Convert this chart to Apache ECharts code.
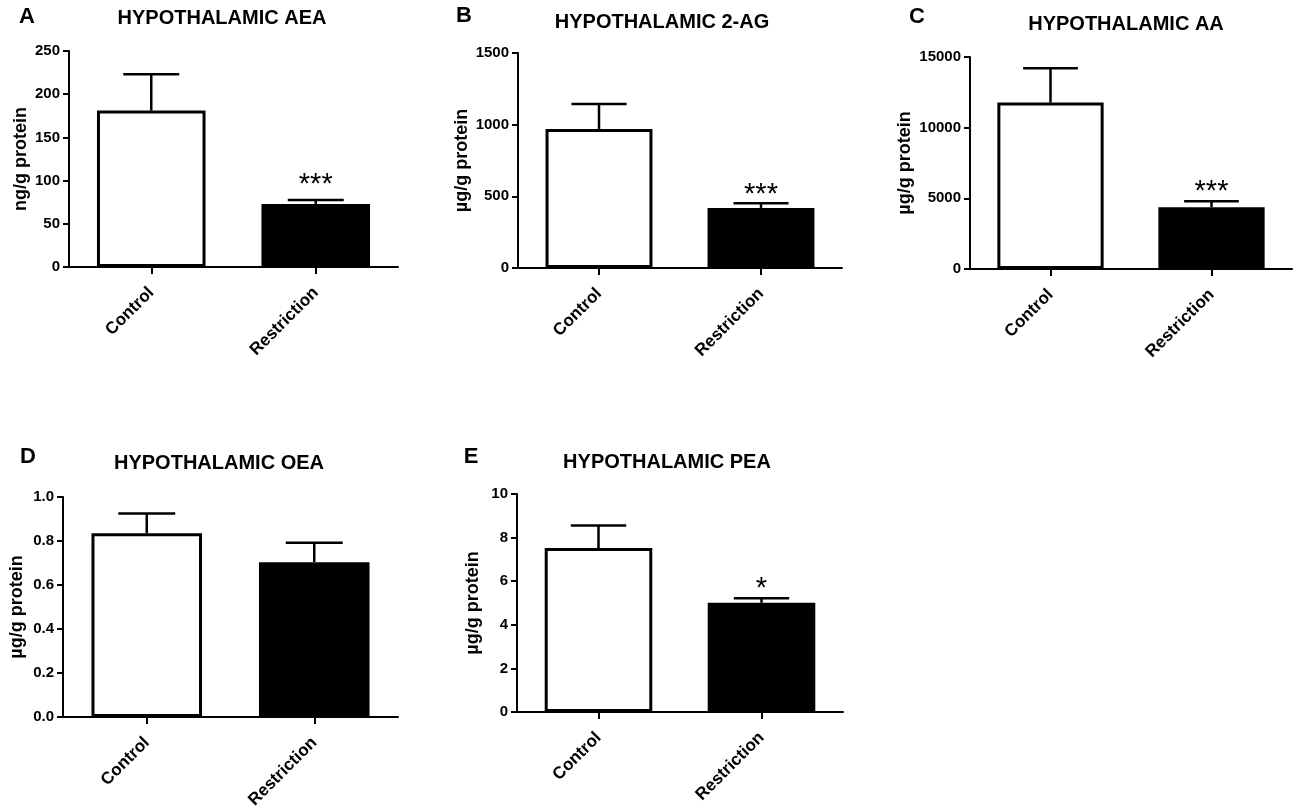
<!DOCTYPE html>
<html>
<head>
<meta charset="utf-8">
<title>Hypothalamic endocannabinoids</title>
<script src="https://cdn.jsdelivr.net/npm/echarts@6/dist/echarts.min.js"></script>
<style>
  html, body { margin: 0; padding: 0; background: #fff; }
  #chart { width: 1300px; height: 811px; }
</style>
</head>
<body>
<div id="chart"></div>
<script>
// groups on the x axis
var categories = ['Control', 'Restriction'];

// panel captions
var letters = ['A', 'B', 'C', 'D', 'E'];
var titles = ['HYPOTHALAMIC AEA', 'HYPOTHALAMIC 2-AG', 'HYPOTHALAMIC AA', 'HYPOTHALAMIC OEA', 'HYPOTHALAMIC PEA'];
var yNames = ['ng/g protein', 'µg/g protein', 'µg/g protein', 'µg/g protein', 'µg/g protein'];

// means and SEM per panel (Control, Restriction)
var aeaMean = [181, 73];
var aeaSem = [42, 4.5];
var agMean = [970, 419];
var agSem = [175, 33];
var aaMean = [11780, 4370];
var aaSem = [2420, 430];
var oeaMean = [0.835, 0.704];
var oeaSem = [0.09, 0.088];
var peaMean = [7.52, 5.01];
var peaSem = [1.03, 0.21];

// significance marks
var aeaStars = ['', '***'];
var agStars = ['', '***'];
var aaStars = ['', '***'];
var oeaStars = ['', ''];
var peaStars = ['', '*'];

// y axis ranges
var yMax = [250, 1500, 15000, 1.0, 10];
var yStep = [50, 500, 5000, 0.2, 2];

var means = [aeaMean, agMean, aaMean, oeaMean, peaMean];
var sems = [aeaSem, agSem, aaSem, oeaSem, peaSem];
var stars = [aeaStars, agStars, aaStars, oeaStars, peaStars];

// layout of each panel
var grids = [
  { left: 69, top: 51, width: 329, height: 216 },
  { left: 518, top: 53, width: 324, height: 215 },
  { left: 970, top: 57, width: 322, height: 212 },
  { left: 63, top: 497, width: 335, height: 221 },
  { left: 517, top: 494, width: 326, height: 218 }
];
var nameGaps = [39, 47, 56, 37, 35];
var starLift = [15, 8, 9, 8, 9];
var titlePos = [[222, 18], [662, 22], [1126, 24], [219, 463], [667, 462]];
var letterPos = [[27, 17], [464, 16], [917, 17], [28, 457], [471, 457]];
var fills = ['#ffffff', '#000000'];
var FONT = "'Liberation Sans', Arial, Helvetica, sans-serif";

var myChart = echarts.init(document.getElementById('chart'));

var xAxes = [], yAxes = [], series = [], graphics = [];

for (var i = 0; i < 5; i++) {
  xAxes.push({
    type: 'category',
    gridIndex: i,
    data: categories,
    axisLine: { show: true, lineStyle: { color: '#000', width: 2 } },
    axisTick: { show: true, alignWithLabel: true, length: 7, lineStyle: { color: '#000', width: 2 } },
    axisLabel: {
      interval: 0, rotate: 45, margin: 23,
      color: '#000', fontSize: 17, fontWeight: 'bold', fontFamily: FONT
    },
    splitLine: { show: false }
  });
  yAxes.push({
    type: 'value',
    gridIndex: i,
    min: 0,
    max: yMax[i],
    interval: yStep[i],
    name: yNames[i],
    nameLocation: 'middle',
    nameRotate: 90,
    nameGap: nameGaps[i],
    nameTextStyle: { color: '#000', fontSize: 18, fontWeight: 'bold', fontFamily: FONT },
    axisLine: { show: true, lineStyle: { color: '#000', width: 2 } },
    axisTick: { show: true, length: 6, lineStyle: { color: '#000', width: 2 } },
    axisLabel: {
      margin: 9, color: '#000', fontSize: 15, fontWeight: 'bold', fontFamily: FONT,
      formatter: (function (step) {
        return function (v) { return step < 1 ? v.toFixed(1) : String(v); };
      })(yStep[i])
    },
    splitLine: { show: false }
  });

  series.push({
    type: 'bar',
    xAxisIndex: i,
    yAxisIndex: i,
    barWidth: '66%',
    silent: true,
    itemStyle: { borderColor: '#000', borderWidth: 3 },
    data: means[i].map(function (v, j) {
      return { value: v, itemStyle: { color: fills[j] } };
    }),
    z: 2
  });

  // error bar (upper half only) plus significance mark
  series.push({
    type: 'custom',
    xAxisIndex: i,
    yAxisIndex: i,
    silent: true,
    z: 3,
    data: means[i].map(function (m, j) { return [j, m, m + sems[i][j]]; }),
    encode: { x: 0, y: [1, 2] },
    renderItem: (function (marks, lift) {
      return function (params, api) {
        var x = api.value(0);
        var base = api.coord([x, api.value(1)]);
        var top = api.coord([x, api.value(2)]);
        var half = api.size([1, 0])[0] * 0.17;
        var st = { stroke: '#000', lineWidth: 2.5 };
        var children = [
          { type: 'line', shape: { x1: base[0], y1: base[1], x2: top[0], y2: top[1] }, style: st },
          { type: 'line', shape: { x1: top[0] - half, y1: top[1], x2: top[0] + half, y2: top[1] }, style: st }
        ];
        var mark = marks[params.dataIndex];
        if (mark) {
          children.push({
            type: 'text',
            x: top[0], y: top[1] - lift,
            style: {
              text: mark, fill: '#000', font: 'normal 29px ' + FONT,
              textAlign: 'center', textVerticalAlign: 'middle'
            }
          });
        }
        return { type: 'group', children: children };
      };
    })(stars[i], starLift[i])
  });

  graphics.push({
    type: 'text', x: titlePos[i][0], y: titlePos[i][1],
    style: {
      text: titles[i], fill: '#000', font: 'bold 20px ' + FONT,
      textAlign: 'center', textVerticalAlign: 'middle'
    }
  });
  graphics.push({
    type: 'text', x: letterPos[i][0], y: letterPos[i][1],
    style: {
      text: letters[i], fill: '#000', font: 'bold 22px ' + FONT,
      textAlign: 'center', textVerticalAlign: 'middle'
    }
  });
}

myChart.setOption({
  backgroundColor: '#fff',
  animation: false,
  textStyle: { fontFamily: FONT },
  grid: grids,
  xAxis: xAxes,
  yAxis: yAxes,
  series: series,
  graphic: graphics
});
</script>
</body>
</html>
